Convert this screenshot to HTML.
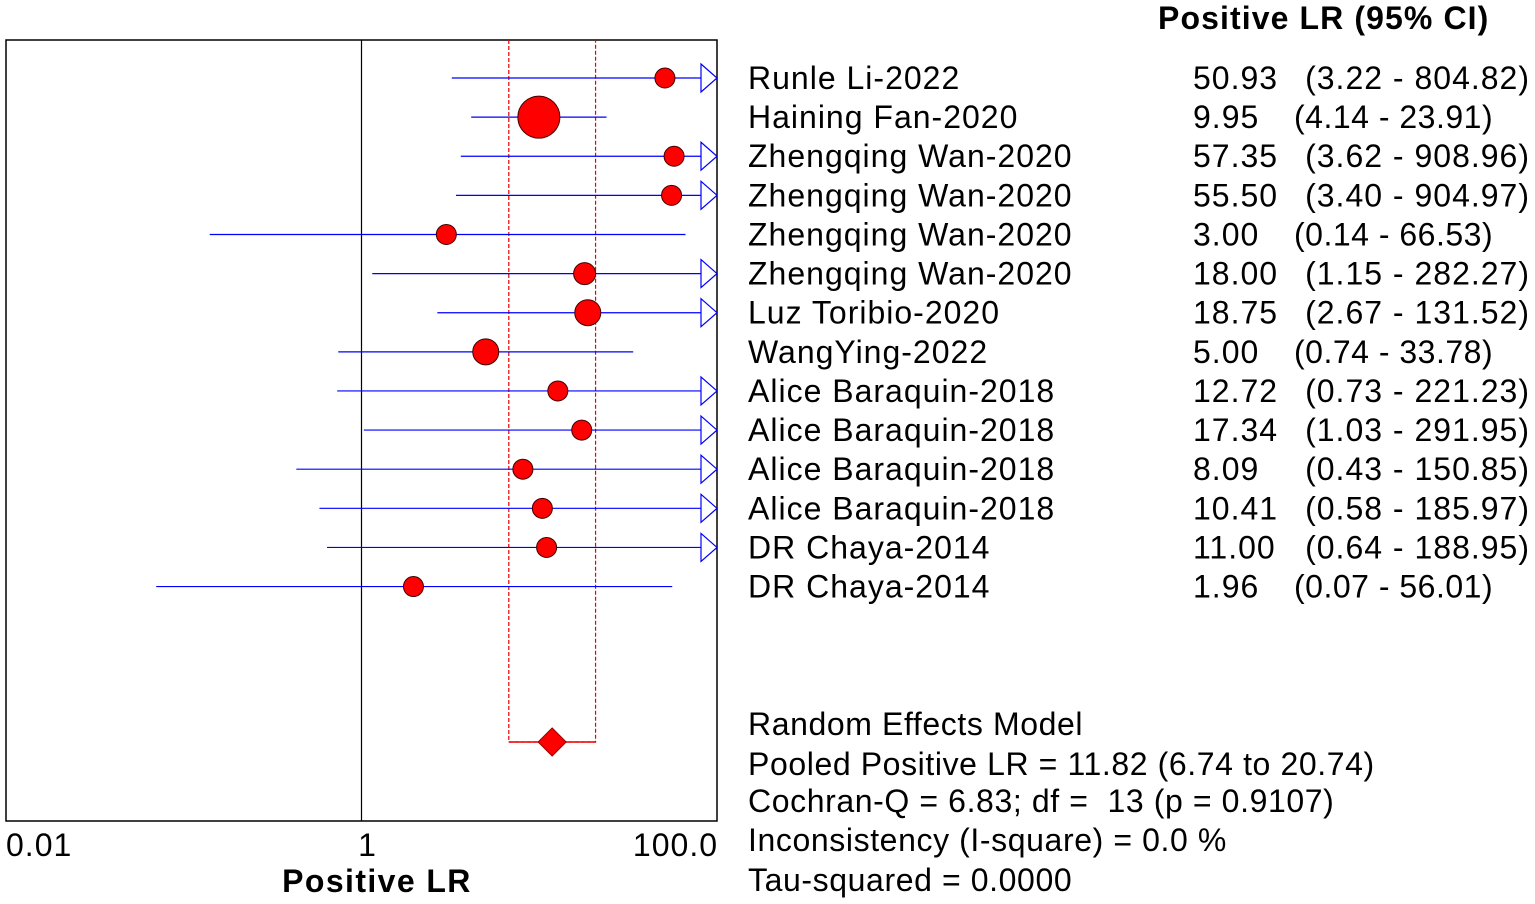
<!DOCTYPE html>
<html><head><meta charset="utf-8"><style>
html,body{margin:0;padding:0;background:#fff;}
svg{display:block;font-family:"Liberation Sans",sans-serif;}
</style></head><body>
<svg id="chart" width="1535" height="904" viewBox="0 0 1535 904"></svg>
<script>
const studies=["Runle Li-2022","Haining Fan-2020","Zhengqing Wan-2020","Zhengqing Wan-2020","Zhengqing Wan-2020","Zhengqing Wan-2020","Luz Toribio-2020","WangYing-2022","Alice Baraquin-2018","Alice Baraquin-2018","Alice Baraquin-2018","Alice Baraquin-2018","DR Chaya-2014","DR Chaya-2014"];
const lr=[50.93,9.95,57.35,55.50,3.00,18.00,18.75,5.00,12.72,17.34,8.09,10.41,11.00,1.96];
const lo=[3.22,4.14,3.62,3.40,0.14,1.15,2.67,0.74,0.73,1.03,0.43,0.58,0.64,0.07];
const hi=[804.82,23.91,908.96,904.97,66.53,282.27,131.52,33.78,221.23,291.95,150.85,185.97,188.95,56.01];
const weights=[10,21,10,10,10,11,13,13,10,10,10,10,10,10];
const pooled=[11.82,6.74,20.74];
const NS="http://www.w3.org/2000/svg";
const svg=document.getElementById('chart');
const X0=6,X1=717,LMIN=-2,LMAX=2;
function x(v){return X0+(Math.log10(v)-LMIN)/(LMAX-LMIN)*(X1-X0);}
function y(i){return 78+i*39.12;}
function mk(t,a,p){const e=document.createElementNS(NS,t);for(const k in a)e.setAttribute(k,a[k]);(p||svg).appendChild(e);return e;}
function fmt(v){return v.toFixed(2);}
const box=mk('rect',{x:X0,y:40,width:X1-X0,height:781,fill:'none',stroke:'#000','stroke-width':1.5});


const ref=mk('line',{x1:x(1),x2:x(1),y1:40,y2:821,stroke:'#000','stroke-width':1.2});


const band=mk('path',{d:`M${x(pooled[1])},40 V742 H${x(pooled[2])} V40`,fill:'none',stroke:'#e00','stroke-width':1.2,'stroke-dasharray':'4,2'});


const bb=mk('line',{x1:x(pooled[1]),x2:x(pooled[2]),y1:742,y2:742,stroke:'#e00','stroke-width':1.5});


const dx=x(pooled[0]);
const dia=mk('polygon',{points:`${dx-14},742 ${dx},728 ${dx+14},742 ${dx},756`,fill:'#f00',stroke:'#900','stroke-width':1});


const TS={'font-size':32,'letter-spacing':1,'word-spacing':0};
function st(a){return Object.assign({},TS,a);}
for(let i=0;i<studies.length;i++){
  const g=mk('g',{});
  
  
  const yy=y(i);
  const xl=Math.max(X0,x(lo[i])), clip=hi[i]>100;
  const xr=clip?X1:x(hi[i]);
  const l=mk('line',{x1:xl,x2:xr,y1:yy,y2:yy,stroke:'#00f','stroke-width':1.2},g);
  
  
  if(clip){const a=mk('polygon',{points:`${X1-16},${yy-14} ${X1},${yy} ${X1-16},${yy+14}`,fill:'#fff',stroke:'#00f','stroke-width':1.2},g);
    
    }
  const c=mk('circle',{cx:x(lr[i]),cy:yy,r:weights[i],fill:'#f00',stroke:'#400','stroke-width':1},g);
  
  
  const t1=mk('text',st({x:748,y:yy+11}),g);t1.textContent=studies[i];
  
  
  const t2=mk('text',st({x:1193,y:yy+11}),g);t2.textContent=fmt(lr[i]);
  
  
  const t3=mk('text',clip?st({x:1530,y:yy+11,'text-anchor':'end','letter-spacing':1}):st({x:1294,y:yy+11,'letter-spacing':0.5}),g);
  t3.textContent='('+fmt(lo[i])+' - '+fmt(hi[i])+')';
  
  
}
function txt(s,a,name){const t=mk('text',a);t.textContent=s;return t;}
txt('Positive LR (95% CI)',st({x:1158,y:29,'font-weight':'bold','letter-spacing':1.1}),'column-header');
txt('0.01',st({x:6,y:856}),'x-tick-0.01');
txt('1',st({x:x(1)+6,y:856,'text-anchor':'middle'}),'x-tick-1');
txt('100.0',st({x:718,y:856,'text-anchor':'end'}),'x-tick-100');
txt('Positive LR',st({x:377,y:892,'font-weight':'bold','text-anchor':'middle','letter-spacing':1.4}),'x-axis-title');
const summ=['Random Effects Model','Pooled Positive LR = '+fmt(pooled[0])+' ('+fmt(pooled[1])+' to '+fmt(pooled[2])+')','Cochran-Q = 6.83; df =  13 (p = 0.9107)','Inconsistency (I-square) = 0.0 %','Tau-squared = 0.0000'];
const sy=[735,775,812,851,891];
summ.forEach((s,i)=>{const t=txt(s,st({x:748,y:sy[i],'letter-spacing':0.6}),'summary-line-'+(i+1));t.setAttribute('xml:space','preserve');t.style.whiteSpace='pre';});
</script>
</body></html>
